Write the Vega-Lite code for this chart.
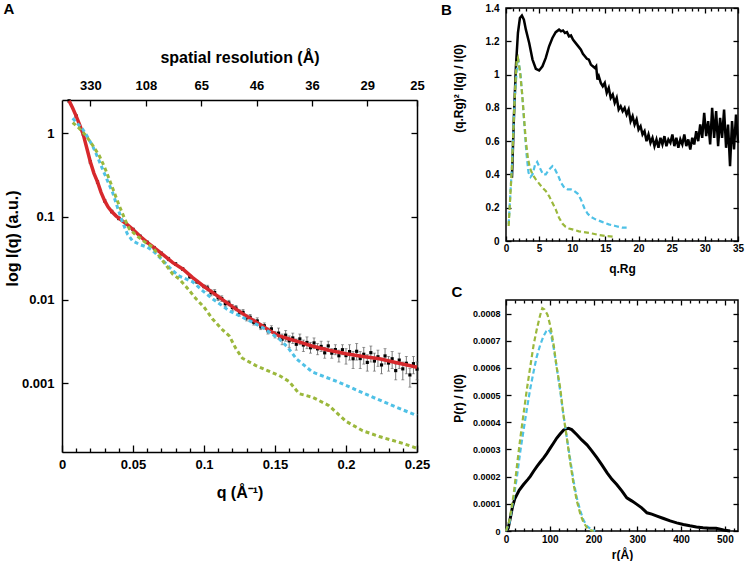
{
"$schema": "https://vega.github.io/schema/vega-lite/v6.json",
"background": "white",
"padding": {"left": 3, "top": 2, "right": 3, "bottom": 0},
"config": {
  "view": {"stroke": "black", "strokeWidth": 1.5},
  "font": "Liberation Sans",
  "axis": {"domain": false, "grid": false, "labelFont": "Liberation Sans", "titleFont": "Liberation Sans", "labelFontWeight": "bold", "titleFontWeight": "bold", "tickColor": "black", "tickWidth": 1.3, "labelColor": "black", "titleColor": "black", "labelOverlap": false, "labelFlush": false, "domainColor": "black", "domainWidth": 1.5},
  "title": {"fontWeight": "bold", "fontSize": 15, "anchor": "start", "frame": "bounds", "font": "Liberation Sans"}
},
"datasets": {
  "aPts": [
    {"q":0.005,"I":2.44,"lo":2.34,"hi":2.54},{"q":0.01,"I":1.6,"lo":1.54,"hi":1.66},{"q":0.015,"I":0.98,"lo":0.94,"hi":1.02},{"q":0.02,"I":0.45,"lo":0.43,"hi":0.47},{"q":0.025,"I":0.26,"lo":0.25,"hi":0.27},{"q":0.03,"I":0.155,"lo":0.149,"hi":0.161},{"q":0.035,"I":0.115,"lo":0.11,"hi":0.12},{"q":0.04,"I":0.095,"lo":0.091,"hi":0.099},{"q":0.045,"I":0.082,"lo":0.079,"hi":0.085},{"q":0.05,"I":0.07,"lo":0.067,"hi":0.073},{"q":0.055,"I":0.058,"lo":0.056,"hi":0.06},{"q":0.06,"I":0.049,"lo":0.047,"hi":0.051},{"q":0.065,"I":0.042,"lo":0.04,"hi":0.044},{"q":0.07,"I":0.036,"lo":0.034,"hi":0.038},{"q":0.075,"I":0.031,"lo":0.0295,"hi":0.0325},{"q":0.08,"I":0.027,"lo":0.026,"hi":0.028},{"q":0.085,"I":0.0235,"lo":0.0225,"hi":0.0245},{"q":0.09,"I":0.019,"lo":0.018,"hi":0.02},{"q":0.095,"I":0.0165,"lo":0.0158,"hi":0.0172},{"q":0.1,"I":0.0145,"lo":0.0139,"hi":0.0151},
    {"q":0.1025,"I":0.0139,"lo":0.0128,"hi":0.015},{"q":0.105,"I":0.0122,"lo":0.0112,"hi":0.0132},{"q":0.1075,"I":0.0123,"lo":0.0113,"hi":0.0133},{"q":0.11,"I":0.0106,"lo":0.0098,"hi":0.0114},{"q":0.1125,"I":0.0104,"lo":0.0096,"hi":0.0112},{"q":0.115,"I":0.009,"lo":0.0083,"hi":0.0097},{"q":0.1175,"I":0.0092,"lo":0.0085,"hi":0.0099},{"q":0.12,"I":0.0081,"lo":0.0075,"hi":0.0088},{"q":0.1225,"I":0.008,"lo":0.0074,"hi":0.0086},{"q":0.125,"I":0.007,"lo":0.0064,"hi":0.0076},{"q":0.1275,"I":0.0071,"lo":0.0066,"hi":0.0077},{"q":0.13,"I":0.0061,"lo":0.0056,"hi":0.0066},{"q":0.1325,"I":0.0062,"lo":0.0057,"hi":0.0067},{"q":0.135,"I":0.0054,"lo":0.005,"hi":0.0059},{"q":0.1375,"I":0.0056,"lo":0.0052,"hi":0.0061},{"q":0.14,"I":0.00475,"lo":0.0044,"hi":0.0051},{"q":0.1425,"I":0.0049,"lo":0.0045,"hi":0.0053},{"q":0.145,"I":0.00427,"lo":0.0039,"hi":0.0046},{"q":0.1475,"I":0.0045,"lo":0.0041,"hi":0.0049},{"q":0.15,"I":0.00384,"lo":0.0035,"hi":0.0042},
    {"q":0.1525,"I":0.004,"lo":0.0034,"hi":0.0046},{"q":0.155,"I":0.00338,"lo":0.0029,"hi":0.0039},{"q":0.1575,"I":0.00378,"lo":0.0032,"hi":0.0043},{"q":0.16,"I":0.00323,"lo":0.0027,"hi":0.0037},{"q":0.1625,"I":0.0035,"lo":0.003,"hi":0.004},{"q":0.165,"I":0.00294,"lo":0.0025,"hi":0.0034},{"q":0.1675,"I":0.00341,"lo":0.0029,"hi":0.0039},{"q":0.17,"I":0.00288,"lo":0.0024,"hi":0.0033},{"q":0.1725,"I":0.00309,"lo":0.0026,"hi":0.0036},{"q":0.175,"I":0.00267,"lo":0.0023,"hi":0.0031},{"q":0.1775,"I":0.00305,"lo":0.0026,"hi":0.0035},{"q":0.18,"I":0.00259,"lo":0.0022,"hi":0.003},{"q":0.1825,"I":0.00277,"lo":0.0024,"hi":0.0032},{"q":0.185,"I":0.00232,"lo":0.002,"hi":0.0027},{"q":0.1875,"I":0.00281,"lo":0.0024,"hi":0.0032},{"q":0.19,"I":0.0023,"lo":0.002,"hi":0.0026},{"q":0.1925,"I":0.00254,"lo":0.0022,"hi":0.0029},{"q":0.195,"I":0.00214,"lo":0.0018,"hi":0.0025},{"q":0.1975,"I":0.00253,"lo":0.0022,"hi":0.0029},{"q":0.2,"I":0.00215,"lo":0.0017,"hi":0.0026},
    {"q":0.2025,"I":0.0024,"lo":0.0019,"hi":0.0029},{"q":0.205,"I":0.00197,"lo":0.0015,"hi":0.0024},{"q":0.2075,"I":0.00242,"lo":0.0019,"hi":0.003},{"q":0.21,"I":0.00198,"lo":0.0015,"hi":0.0024},{"q":0.2125,"I":0.00223,"lo":0.0017,"hi":0.0027},{"q":0.215,"I":0.00178,"lo":0.0014,"hi":0.0022},{"q":0.2175,"I":0.00233,"lo":0.0018,"hi":0.0028},{"q":0.22,"I":0.00185,"lo":0.0014,"hi":0.0023},{"q":0.2225,"I":0.00208,"lo":0.0016,"hi":0.0025},{"q":0.225,"I":0.00166,"lo":0.0013,"hi":0.002},{"q":0.2275,"I":0.00213,"lo":0.0017,"hi":0.0026},{"q":0.23,"I":0.00175,"lo":0.0014,"hi":0.0021},{"q":0.2325,"I":0.00197,"lo":0.0015,"hi":0.0024},{"q":0.235,"I":0.00142,"lo":0.0011,"hi":0.0017},{"q":0.2375,"I":0.0019,"lo":0.0015,"hi":0.0023},{"q":0.24,"I":0.00149,"lo":0.0011,"hi":0.0018},{"q":0.2425,"I":0.00174,"lo":0.0013,"hi":0.0021},{"q":0.245,"I":0.00126,"lo":0.0009,"hi":0.0015},{"q":0.2475,"I":0.00172,"lo":0.0013,"hi":0.0021},{"q":0.25,"I":0.00148,"lo":0.0011,"hi":0.0018}
  ],
  "aFit": [
    {"q":0.005,"I":2.44},{"q":0.0075,"I":2.0},{"q":0.01,"I":1.6},{"q":0.0125,"I":1.25},{"q":0.015,"I":0.96},{"q":0.0175,"I":0.66},{"q":0.02,"I":0.45},{"q":0.0225,"I":0.33},{"q":0.025,"I":0.26},{"q":0.0275,"I":0.195},{"q":0.03,"I":0.155},{"q":0.0325,"I":0.13},{"q":0.035,"I":0.115},{"q":0.038,"I":0.102},{"q":0.042,"I":0.09},{"q":0.046,"I":0.08},{"q":0.05,"I":0.07},{"q":0.055,"I":0.058},{"q":0.06,"I":0.049},{"q":0.066,"I":0.041},{"q":0.072,"I":0.034},{"q":0.078,"I":0.028},{"q":0.085,"I":0.0235},{"q":0.092,"I":0.0185},{"q":0.1,"I":0.0145},{"q":0.106,"I":0.0123},{"q":0.113,"I":0.0101},{"q":0.12,"I":0.0083},{"q":0.127,"I":0.0069},{"q":0.134,"I":0.0058},{"q":0.141,"I":0.0049},{"q":0.147,"I":0.0042},{"q":0.153,"I":0.0037},{"q":0.16,"I":0.0034},{"q":0.168,"I":0.0031},{"q":0.176,"I":0.0028},{"q":0.188,"I":0.00249},{"q":0.2,"I":0.00226},{"q":0.212,"I":0.0021},{"q":0.2235,"I":0.00197},{"q":0.235,"I":0.00178},{"q":0.25,"I":0.00156}
  ],
  "aCyan": [
    {"q":0.0075,"I":1.51},{"q":0.011,"I":1.3},{"q":0.0145,"I":1.12},{"q":0.018,"I":0.9},{"q":0.0216,"I":0.7},{"q":0.025,"I":0.52},{"q":0.0286,"I":0.37},{"q":0.032,"I":0.27},{"q":0.0356,"I":0.195},{"q":0.039,"I":0.13},{"q":0.0427,"I":0.085},{"q":0.046,"I":0.062},{"q":0.0497,"I":0.051},{"q":0.055,"I":0.046},{"q":0.06,"I":0.043},{"q":0.0638,"I":0.039},{"q":0.07,"I":0.031},{"q":0.0756,"I":0.0246},{"q":0.082,"I":0.0195},{"q":0.092,"I":0.0165},{"q":0.1,"I":0.0125},{"q":0.106,"I":0.0103},{"q":0.1178,"I":0.0074},{"q":0.1296,"I":0.0059},{"q":0.141,"I":0.0047},{"q":0.153,"I":0.0034},{"q":0.159,"I":0.0027},{"q":0.165,"I":0.00197},{"q":0.1765,"I":0.00136},{"q":0.195,"I":0.00103},{"q":0.2164,"I":0.00071},{"q":0.235,"I":0.00052},{"q":0.25,"I":0.00041}
  ],
  "aGreen": [
    {"q":0.0075,"I":1.34},{"q":0.012,"I":1.15},{"q":0.017,"I":0.93},{"q":0.0215,"I":0.72},{"q":0.0263,"I":0.535},{"q":0.03,"I":0.39},{"q":0.0333,"I":0.28},{"q":0.037,"I":0.19},{"q":0.0404,"I":0.134},{"q":0.044,"I":0.095},{"q":0.0474,"I":0.071},{"q":0.052,"I":0.06},{"q":0.058,"I":0.05},{"q":0.0638,"I":0.043},{"q":0.07,"I":0.031},{"q":0.078,"I":0.0204},{"q":0.0826,"I":0.0178},{"q":0.0873,"I":0.0145},{"q":0.0944,"I":0.0103},{"q":0.1,"I":0.0082},{"q":0.106,"I":0.0059},{"q":0.1135,"I":0.0043},{"q":0.1178,"I":0.0037},{"q":0.1225,"I":0.0026},{"q":0.127,"I":0.002},{"q":0.1366,"I":0.00163},{"q":0.153,"I":0.00124},{"q":0.16,"I":0.00105},{"q":0.167,"I":0.00075},{"q":0.1765,"I":0.00068},{"q":0.188,"I":0.00054},{"q":0.2,"I":0.00035},{"q":0.2117,"I":0.00027},{"q":0.2235,"I":0.00023},{"q":0.24,"I":0.00019},{"q":0.25,"I":0.000166}
  ],
  "bBlack": [
    {"x":0.9,"y":0.38},{"x":1.2,"y":0.75},{"x":1.5,"y":1.05},{"x":1.8,"y":1.25},{"x":2.1,"y":1.34},{"x":2.4,"y":1.355},{"x":2.7,"y":1.33},{"x":3.0,"y":1.27},{"x":3.5,"y":1.19},{"x":4.0,"y":1.09},{"x":4.5,"y":1.035},{"x":5.0,"y":1.025},{"x":5.5,"y":1.05},{"x":6.0,"y":1.1},{"x":6.5,"y":1.17},{"x":7.0,"y":1.22},{"x":7.5,"y":1.255},{"x":8.0,"y":1.27},{"x":8.3,"y":1.26},{"x":8.6,"y":1.265},{"x":8.9,"y":1.25},{"x":9.2,"y":1.255},{"x":9.5,"y":1.23},{"x":9.8,"y":1.235},{"x":10.1,"y":1.21},{"x":10.4,"y":1.195},{"x":10.7,"y":1.18},{"x":11.0,"y":1.165},{"x":11.3,"y":1.15},{"x":11.6,"y":1.125},{"x":11.9,"y":1.11},{"x":12.2,"y":1.095},{"x":12.5,"y":1.09},{"x":12.8,"y":1.06},{"x":13.1,"y":1.05},{"x":13.4,"y":1.04},{"x":13.6,"y":1.05},{"x":13.8,"y":0.97},{"x":14.0,"y":0.99},{"x":14.3,"y":0.95},{"x":14.6,"y":0.93},{"x":14.9,"y":0.95},{"x":15.2,"y":0.89},{"x":15.5,"y":0.92},{"x":15.8,"y":0.86},{"x":16.1,"y":0.88},{"x":16.4,"y":0.83},{"x":16.7,"y":0.86},{"x":17.0,"y":0.79},{"x":17.3,"y":0.81},{"x":17.6,"y":0.78},{"x":17.9,"y":0.8},{"x":18.2,"y":0.76},{"x":18.5,"y":0.79},{"x":18.8,"y":0.72},{"x":19.1,"y":0.75},{"x":19.4,"y":0.7},{"x":19.7,"y":0.73},{"x":20.0,"y":0.67},{"x":20.3,"y":0.69},{"x":20.6,"y":0.64},{"x":20.9,"y":0.66},{"x":21.2,"y":0.6},{"x":21.5,"y":0.64},{"x":21.8,"y":0.59},{"x":22.1,"y":0.62},{"x":22.4,"y":0.57},{"x":22.7,"y":0.61},{"x":23.0,"y":0.56},{"x":23.3,"y":0.62},{"x":23.6,"y":0.58},{"x":23.9,"y":0.63},{"x":24.2,"y":0.57},{"x":24.5,"y":0.61},{"x":24.8,"y":0.59},{"x":25.1,"y":0.64},{"x":25.4,"y":0.57},{"x":25.7,"y":0.62},{"x":26.0,"y":0.56},{"x":26.3,"y":0.61},{"x":26.6,"y":0.58},{"x":26.9,"y":0.64},{"x":27.2,"y":0.57},{"x":27.5,"y":0.61},{"x":27.8,"y":0.55},{"x":28.1,"y":0.62},{"x":28.4,"y":0.58},{"x":28.7,"y":0.66},{"x":29.0,"y":0.6},{"x":29.3,"y":0.7},{"x":29.6,"y":0.62},{"x":29.9,"y":0.77},{"x":30.2,"y":0.63},{"x":30.5,"y":0.72},{"x":30.8,"y":0.58},{"x":31.1,"y":0.8},{"x":31.4,"y":0.62},{"x":31.7,"y":0.78},{"x":32.0,"y":0.57},{"x":32.3,"y":0.74},{"x":32.6,"y":0.62},{"x":32.9,"y":0.79},{"x":33.2,"y":0.56},{"x":33.5,"y":0.7},{"x":33.8,"y":0.45},{"x":34.1,"y":0.72},{"x":34.4,"y":0.55},{"x":34.7,"y":0.76},{"x":35.0,"y":0.59}
  ],
  "bCyan": [
    {"x":0.4,"y":0.1},{"x":0.9,"y":0.45},{"x":1.3,"y":0.85},{"x":1.7,"y":1.07},{"x":1.9,"y":1.08},{"x":2.2,"y":1.0},{"x":2.5,"y":0.85},{"x":2.8,"y":0.68},{"x":3.1,"y":0.52},{"x":3.4,"y":0.41},{"x":3.7,"y":0.385},{"x":4.0,"y":0.4},{"x":4.4,"y":0.46},{"x":4.7,"y":0.475},{"x":5.1,"y":0.44},{"x":5.6,"y":0.4},{"x":6.0,"y":0.4},{"x":6.5,"y":0.43},{"x":7.0,"y":0.45},{"x":7.4,"y":0.43},{"x":7.9,"y":0.39},{"x":8.3,"y":0.35},{"x":8.8,"y":0.32},{"x":9.3,"y":0.31},{"x":9.8,"y":0.31},{"x":10.3,"y":0.3},{"x":10.8,"y":0.285},{"x":11.3,"y":0.25},{"x":11.8,"y":0.2},{"x":12.3,"y":0.165},{"x":12.8,"y":0.145},{"x":13.5,"y":0.13},{"x":14.5,"y":0.115},{"x":15.5,"y":0.1},{"x":16.5,"y":0.09},{"x":17.5,"y":0.08},{"x":18.2,"y":0.08}
  ],
  "bGreen": [
    {"x":0.4,"y":0.09},{"x":0.9,"y":0.45},{"x":1.3,"y":0.85},{"x":1.6,"y":1.08},{"x":1.8,"y":1.1},{"x":2.1,"y":1.02},{"x":2.4,"y":0.9},{"x":2.7,"y":0.75},{"x":3.0,"y":0.6},{"x":3.3,"y":0.5},{"x":3.6,"y":0.44},{"x":4.0,"y":0.4},{"x":4.5,"y":0.37},{"x":5.0,"y":0.345},{"x":5.5,"y":0.32},{"x":6.0,"y":0.3},{"x":6.5,"y":0.27},{"x":7.0,"y":0.23},{"x":7.5,"y":0.19},{"x":8.0,"y":0.14},{"x":8.5,"y":0.105},{"x":9.0,"y":0.085},{"x":9.5,"y":0.075},{"x":10.0,"y":0.07},{"x":11.0,"y":0.058},{"x":12.0,"y":0.052},{"x":13.0,"y":0.045},{"x":14.0,"y":0.036},{"x":15.0,"y":0.03},{"x":16.3,"y":0.026}
  ],
  "cBlack": [
    {"r":0,"p":0},{"r":5,"p":0.00001},{"r":10,"p":0.000049},{"r":15,"p":0.00009},{"r":20,"p":0.000118},{"r":25,"p":0.000134},{"r":30,"p":0.00015},{"r":40,"p":0.000171},{"r":50,"p":0.00019},{"r":55.5,"p":0.000201},{"r":63,"p":0.00022},{"r":70.8,"p":0.000238},{"r":78,"p":0.000253},{"r":86,"p":0.000269},{"r":93,"p":0.000285},{"r":101,"p":0.000305},{"r":108,"p":0.000322},{"r":116,"p":0.000342},{"r":124,"p":0.000358},{"r":131.7,"p":0.000372},{"r":138,"p":0.000376},{"r":143,"p":0.000378},{"r":150,"p":0.000373},{"r":162,"p":0.000354},{"r":173,"p":0.000335},{"r":185,"p":0.000317},{"r":196,"p":0.000295},{"r":208,"p":0.000269},{"r":219,"p":0.000243},{"r":231,"p":0.000214},{"r":242,"p":0.00019},{"r":253,"p":0.000171},{"r":265,"p":0.000147},{"r":276,"p":0.000122},{"r":288,"p":0.00011},{"r":299,"p":0.000098},{"r":310,"p":0.000085},{"r":322,"p":0.000067},{"r":333,"p":0.000062},{"r":345,"p":0.000055},{"r":360,"p":0.000046},{"r":375,"p":0.000037},{"r":390,"p":0.00003},{"r":405,"p":0.000024},{"r":420,"p":0.000019},{"r":435,"p":0.000015},{"r":450,"p":0.000012},{"r":465,"p":0.00001},{"r":480,"p":0.00001},{"r":497,"p":0.000004},{"r":512,"p":0}
  ],
  "cCyan": [
    {"r":0,"p":0},{"r":8,"p":0.00003},{"r":17.5,"p":0.000122},{"r":25,"p":0.0002},{"r":32.7,"p":0.000293},{"r":40,"p":0.00037},{"r":48,"p":0.000452},{"r":55,"p":0.00052},{"r":63,"p":0.000586},{"r":70,"p":0.00064},{"r":78,"p":0.000684},{"r":86,"p":0.000718},{"r":92,"p":0.000735},{"r":97,"p":0.000742},{"r":102,"p":0.00073},{"r":109,"p":0.000672},{"r":116,"p":0.0006},{"r":124,"p":0.000513},{"r":131,"p":0.00043},{"r":139,"p":0.000342},{"r":147,"p":0.00026},{"r":154.5,"p":0.000183},{"r":162,"p":0.00012},{"r":170,"p":0.000073},{"r":177,"p":0.00004},{"r":185,"p":0.000018},{"r":195,"p":0.000005},{"r":204,"p":0}
  ],
  "cGreen": [
    {"r":0,"p":0},{"r":8,"p":0.00004},{"r":17.5,"p":0.000134},{"r":25,"p":0.00024},{"r":32.7,"p":0.000342},{"r":40,"p":0.00043},{"r":48,"p":0.000525},{"r":55,"p":0.0006},{"r":63,"p":0.000684},{"r":70,"p":0.00074},{"r":78,"p":0.000794},{"r":83,"p":0.00082},{"r":88,"p":0.000815},{"r":95,"p":0.000795},{"r":102,"p":0.00075},{"r":109,"p":0.000684},{"r":116,"p":0.0006},{"r":124,"p":0.000525},{"r":131,"p":0.00043},{"r":139,"p":0.000342},{"r":147,"p":0.00025},{"r":154.5,"p":0.000171},{"r":162,"p":0.00011},{"r":170,"p":0.000061},{"r":177,"p":0.000032},{"r":185,"p":0.000012},{"r":193,"p":0.000003},{"r":200,"p":0}
  ]
},
"spacing": 10,
"hconcat": [
  {
    "width": 355, "height": 444,
    "view": {"stroke": null},
    "title": {"text": "A", "dx": -1, "offset": -9},
    "resolve": {"axis": {"x": "independent", "y": "independent"}},
    "layer": [
      {
        "data": {"name": "aPts"},
        "mark": {"type": "errorbar", "color": "#555555", "thickness": 0.8, "ticks": {"size": 3, "color": "#555555"}},
        "encoding": {
          "x": {"field": "q", "type": "quantitative", "scale": {"domain": [0, 0.25], "nice": false}, "axis": null},
          "y": {"field": "lo", "type": "quantitative", "scale": {"type": "log", "domain": [0.00015, 2.5], "nice": false, "range": [444, 92]}, "axis": null},
          "y2": {"field": "hi"}
        }
      },
      {
        "data": {"name": "aPts"},
        "mark": {"type": "square", "filled": true, "color": "black", "size": 10, "opacity": 1},
        "encoding": {
          "x": {"field": "q", "type": "quantitative", "scale": {"domain": [0, 0.25], "nice": false},
            "axis": {"orient": "bottom", "domain": true, "title": "q (Å⁻¹)", "titleFontSize": 16, "labelFontSize": 13, "titlePadding": 10,
              "values": [0,0.01,0.02,0.03,0.04,0.05,0.06,0.07,0.08,0.09,0.1,0.11,0.12,0.13,0.14,0.15,0.16,0.17,0.18,0.19,0.2,0.21,0.22,0.23,0.24,0.25],
              "labelExpr": "abs(datum.value*20 - round(datum.value*20)) < 0.001 ? format(datum.value, '~g') : ''",
              "tickSize": {"condition": {"test": "abs(datum.value*20 - round(datum.value*20)) < 0.001", "value": -7}, "value": -4},
              "labelPadding": 13}},
          "y": {"field": "I", "type": "quantitative", "scale": {"type": "log", "domain": [0.00015, 2.5], "nice": false, "range": [444, 92]}, "axis": null}
        }
      },
      {
        "data": {"name": "aFit"},
        "mark": {"type": "line", "color": "#d7282c", "strokeWidth": 3.5},
        "encoding": {
          "x": {"field": "q", "type": "quantitative", "scale": {"domain": [0, 0.25], "nice": false}, "axis": null},
          "y": {"field": "I", "type": "quantitative", "scale": {"type": "log", "domain": [0.00015, 2.5], "nice": false, "range": [444, 92]},
            "axis": {"orient": "left", "domain": true, "title": "log I(q)  (a.u.)", "titleFontSize": 16, "labelFontSize": 13, "values": [1, 0.1, 0.01, 0.001], "format": "~g", "tickSize": -6, "labelPadding": 14, "titlePadding": 1, "titleY": 230}}
        }
      },
      {
        "data": {"name": "aCyan"},
        "mark": {"type": "line", "color": "#4fc1e6", "strokeWidth": 3, "strokeDash": [4, 3]},
        "encoding": {
          "x": {"field": "q", "type": "quantitative", "scale": {"domain": [0, 0.25], "nice": false},
            "axis": {"orient": "top", "offset": -92, "domain": true, "title": "spatial resolution (Å)", "titleFontSize": 16, "labelFontSize": 13, "titlePadding": 14,
              "values": [0.02, 0.059, 0.098, 0.137, 0.176, 0.215, 0.25],
              "labelExpr": "datum.value < 0.03 ? '330' : datum.value < 0.07 ? '108' : datum.value < 0.11 ? '65' : datum.value < 0.15 ? '46' : datum.value < 0.19 ? '36' : datum.value < 0.23 ? '29' : '25'",
              "tickSize": -6, "labelPadding": 14}},
          "y": {"field": "I", "type": "quantitative", "scale": {"type": "log", "domain": [0.00015, 2.5], "nice": false, "range": [444, 92]}, "axis": null}
        }
      },
      {
        "data": {"name": "aGreen"},
        "mark": {"type": "line", "color": "#9bb83c", "strokeWidth": 3, "strokeDash": [4, 3]},
        "encoding": {
          "x": {"field": "q", "type": "quantitative", "scale": {"domain": [0, 0.25], "nice": false}, "axis": null},
          "y": {"field": "I", "type": "quantitative", "scale": {"type": "log", "domain": [0.00015, 2.5], "nice": false, "range": [444, 92]},
            "axis": {"orient": "right", "domain": true, "title": null, "labels": false, "values": [1, 0.1, 0.01, 0.001], "tickSize": -6}}
        }
      }
    ]
  },
  {
    "spacing": 9,
    "vconcat": [
      {
        "width": 232, "height": 233,
        "title": {"text": "B", "dx": -11, "offset": -15},
        "resolve": {"axis": {"x": "independent", "y": "independent"}},
        "layer": [
          {
            "data": {"name": "bBlack"},
            "mark": {"type": "line", "color": "black", "strokeWidth": 2.5},
            "encoding": {
              "x": {"field": "x", "type": "quantitative", "scale": {"domain": [0, 35], "nice": false},
                "axis": {"orient": "bottom", "title": "q.Rg", "titleFontSize": 12, "labelFontSize": 10, "titlePadding": 8,
                  "values": [0,1,2,3,4,5,6,7,8,9,10,11,12,13,14,15,16,17,18,19,20,21,22,23,24,25,26,27,28,29,30,31,32,33,34,35],
                  "labelExpr": "datum.value % 5 == 0 ? format(datum.value, '~g') : ''",
                  "tickSize": {"condition": {"test": "datum.value % 5 == 0", "value": -5}, "value": -3},
                  "labelPadding": 7}},
              "y": {"field": "y", "type": "quantitative", "scale": {"domain": [0, 1.4], "nice": false},
                "axis": {"orient": "left", "title": "(q.Rg)² I(q) / I(0)", "titleFontSize": 12, "labelFontSize": 10, "values": [0, 0.2, 0.4, 0.6, 0.8, 1, 1.2, 1.4], "format": "~g", "tickSize": -5, "labelPadding": 12, "titlePadding": 20, "titleY": 80}}
            }
          },
          {
            "data": {"name": "bCyan"},
            "mark": {"type": "line", "color": "#4fc1e6", "strokeWidth": 2.2, "strokeDash": [5, 3]},
            "encoding": {
              "x": {"field": "x", "type": "quantitative", "scale": {"domain": [0, 35], "nice": false},
                "axis": {"orient": "top", "title": null, "labels": false,
                  "values": [0,1,2,3,4,5,6,7,8,9,10,11,12,13,14,15,16,17,18,19,20,21,22,23,24,25,26,27,28,29,30,31,32,33,34,35],
                  "tickSize": {"condition": {"test": "datum.value % 5 == 0", "value": -5}, "value": -3}}},
              "y": {"field": "y", "type": "quantitative", "scale": {"domain": [0, 1.4], "nice": false}, "axis": null}
            }
          },
          {
            "data": {"name": "bGreen"},
            "mark": {"type": "line", "color": "#9bb83c", "strokeWidth": 2.2, "strokeDash": [5, 3]},
            "encoding": {
              "x": {"field": "x", "type": "quantitative", "scale": {"domain": [0, 35], "nice": false}, "axis": null},
              "y": {"field": "y", "type": "quantitative", "scale": {"domain": [0, 1.4], "nice": false},
                "axis": {"orient": "right", "title": null, "labels": false, "values": [0, 0.2, 0.4, 0.6, 0.8, 1, 1.2, 1.4], "tickSize": -5}}
            }
          }
        ]
      },
      {
        "width": 232, "height": 231,
        "title": {"text": "C", "dx": -1, "offset": -1},
        "resolve": {"axis": {"x": "independent", "y": "independent"}},
        "layer": [
          {
            "data": {"name": "cBlack"},
            "mark": {"type": "line", "color": "black", "strokeWidth": 3},
            "encoding": {
              "x": {"field": "r", "type": "quantitative", "scale": {"domain": [0, 530], "nice": false},
                "axis": {"orient": "bottom", "title": "r(Å)", "titleFontSize": 12, "labelFontSize": 10, "titlePadding": 3,
                  "values": [0,20,40,60,80,100,120,140,160,180,200,220,240,260,280,300,320,340,360,380,400,420,440,460,480,500,520],
                  "labelExpr": "datum.value % 100 == 0 ? format(datum.value, '~g') : ''",
                  "tickSize": {"condition": {"test": "datum.value % 100 == 0", "value": -5}, "value": -3},
                  "labelPadding": 8}},
              "y": {"field": "p", "type": "quantitative", "scale": {"domain": [0, 0.00085], "nice": false},
                "axis": {"orient": "left", "title": "P(r) / I(0)", "titleFontSize": 12, "labelFontSize": 9, "values": [0, 0.0001, 0.0002, 0.0003, 0.0004, 0.0005, 0.0006, 0.0007, 0.0008], "format": "~g", "tickSize": -5, "labelPadding": 11, "titlePadding": 7, "titleY": 98}}
            }
          },
          {
            "data": {"name": "cCyan"},
            "mark": {"type": "line", "color": "#4fc1e6", "strokeWidth": 2.2, "strokeDash": [5, 3]},
            "encoding": {
              "x": {"field": "r", "type": "quantitative", "scale": {"domain": [0, 530], "nice": false},
                "axis": {"orient": "top", "title": null, "labels": false,
                  "values": [0,20,40,60,80,100,120,140,160,180,200,220,240,260,280,300,320,340,360,380,400,420,440,460,480,500,520],
                  "tickSize": {"condition": {"test": "datum.value % 100 == 0", "value": -5}, "value": -3}}},
              "y": {"field": "p", "type": "quantitative", "scale": {"domain": [0, 0.00085], "nice": false}, "axis": null}
            }
          },
          {
            "data": {"name": "cGreen"},
            "mark": {"type": "line", "color": "#9bb83c", "strokeWidth": 2.2, "strokeDash": [5, 3]},
            "encoding": {
              "x": {"field": "r", "type": "quantitative", "scale": {"domain": [0, 530], "nice": false}, "axis": null},
              "y": {"field": "p", "type": "quantitative", "scale": {"domain": [0, 0.00085], "nice": false},
                "axis": {"orient": "right", "title": null, "labels": false, "values": [0, 0.0001, 0.0002, 0.0003, 0.0004, 0.0005, 0.0006, 0.0007, 0.0008], "tickSize": -5}}
            }
          }
        ]
      }
    ]
  }
]
}
